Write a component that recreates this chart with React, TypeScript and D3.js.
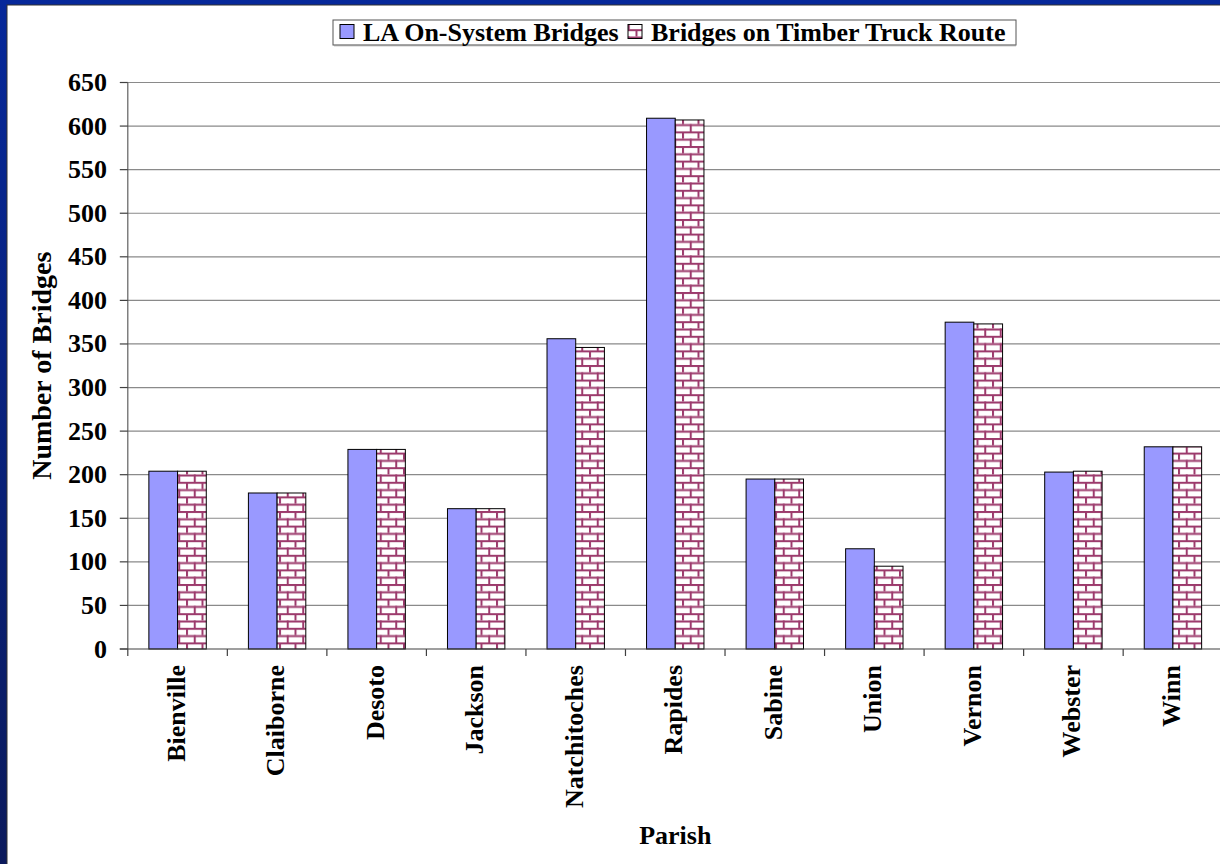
import React from "react";
import * as d3 from "d3";

// Parishes along the x axis
const parishes = [
  "Bienville",
  "Claiborne",
  "Desoto",
  "Jackson",
  "Natchitoches",
  "Rapides",
  "Sabine",
  "Union",
  "Vernon",
  "Webster",
  "Winn",
];

// Series names
const seriesNames = ["LA On-System Bridges", "Bridges on Timber Truck Route"];

// Number of bridges per parish
const onSystemBridges = [204, 179, 229, 161, 356, 609, 195, 115, 375, 203, 232];
const timberRouteBridges = [204, 179, 229, 161, 346, 607, 195, 95, 373, 204, 232];

// Y axis ticks
const yTicks = [0, 50, 100, 150, 200, 250, 300, 350, 400, 450, 500, 550, 600, 650];

const W = 1220;
const H = 864;
const FONT = "'Liberation Serif', 'Times New Roman', serif";
const FS = 26;

export default function App() {
  const plotLeft = 127.8;
  const plotRight = 1222.7;
  const plotTop = 82.5;
  const plotBottom = 649;

  const x = d3.scaleBand<string>().domain(parishes).range([plotLeft, plotRight]).paddingInner(0).paddingOuter(0);
  const y = d3.scaleLinear().domain([0, 650]).range([plotBottom, plotTop]);
  const barW = 28.7;
  const x1 = d3
    .scaleBand<string>()
    .domain(seriesNames)
    .range([-barW, barW]);

  const series = [onSystemBridges, timberRouteBridges];
  const fills = ["#9999FF", "url(#brick)"];

  const bw = 15.5;
  const bh = 14.6;

  return (
    <div style={{ position: "fixed", left: 0, top: 0 }}>
      <svg width={W} height={H} style={{ display: "block" }}>
        <defs>
          <linearGradient id="frame" x1="0" y1="0" x2="0" y2="1">
            <stop offset="0" stopColor="#06289a" />
            <stop offset="1" stopColor="#0b1a5c" />
          </linearGradient>
          <pattern id="brick" patternUnits="userSpaceOnUse" width={bw} height={bh}>
            <rect width={bw} height={bh} fill="#ffffff" />
            <rect x={0} y={0} width={bw} height={2} fill="#9c3a6c" />
            <rect x={0} y={bh / 2} width={bw} height={2} fill="#9c3a6c" />
            <rect x={0} y={0} width={2} height={bh / 2} fill="#9c3a6c" />
            <rect x={bw / 2} y={bh / 2} width={2} height={bh / 2} fill="#9c3a6c" />
          </pattern>
        </defs>

        {/* slide frame */}
        <rect x={0} y={0} width={W} height={H} fill="url(#frame)" />
        <rect x={7} y={5} width={W} height={H} fill="#ffffff" stroke="#333" strokeWidth={1} />

        {/* legend */}
        <g>
          <rect x={333} y={20} width={683} height={25} fill="#fff" stroke="#555" strokeWidth={1} />
          <line x1={334} y1={45.5} x2={1016} y2={45.5} stroke="#999" strokeWidth={1.5} />
          <rect x={340} y={24.5} width={14} height={14} fill="#9999FF" stroke="#000" strokeWidth={1} />
          <text x={363} y={40.5} fontFamily={FONT} fontWeight="bold" fontSize={FS} fill="#000">
            {seriesNames[0]}
          </text>
          <rect x={628} y={24.5} width={14} height={14} fill="url(#brick)" stroke="#000" strokeWidth={1} />
          <text x={651} y={40.5} fontFamily={FONT} fontWeight="bold" fontSize={FS} fill="#000">
            {seriesNames[1]}
          </text>
        </g>

        {/* plot area */}
        <rect x={plotLeft} y={plotTop} width={plotRight - plotLeft} height={plotBottom - plotTop} fill="#fff" />

        {/* gridlines */}
        {yTicks
          .filter((t) => t > 0)
          .map((t) => (
            <line key={t} x1={plotLeft} x2={plotRight} y1={y(t)} y2={y(t)} stroke="#8a8a8a" strokeWidth={1.2} />
          ))}

        {/* bars */}
        {parishes.map((p, i) => {
          const cx = (x(p) as number) + x.bandwidth() / 2;
          return (
            <g key={p}>
              {series.map((vals, s) => (
                <rect
                  key={s}
                  x={cx + (x1(seriesNames[s]) as number)}
                  y={y(vals[i])}
                  width={x1.bandwidth()}
                  height={plotBottom - y(vals[i])}
                  fill={fills[s]}
                  stroke="#000"
                  strokeWidth={1}
                />
              ))}
            </g>
          );
        })}

        {/* y axis */}
        <line x1={plotLeft} x2={plotLeft} y1={plotTop} y2={plotBottom} stroke="#606060" strokeWidth={1.2} />
        {yTicks.map((t) => (
          <g key={t}>
            <line x1={plotLeft - 8} x2={plotLeft} y1={y(t)} y2={y(t)} stroke="#404040" strokeWidth={1.2} />
            <text
              x={107}
              y={y(t) + 8.5}
              textAnchor="end"
              fontFamily={FONT}
              fontWeight="bold"
              fontSize={FS}
              fill="#000"
            >
              {t}
            </text>
          </g>
        ))}

        {/* x axis */}
        <line x1={plotLeft - 8} x2={plotRight} y1={plotBottom} y2={plotBottom} stroke="#404040" strokeWidth={1.2} />
        {parishes.map((p) => (
          <line
            key={p}
            x1={x(p) as number}
            x2={x(p) as number}
            y1={plotBottom}
            y2={plotBottom + 7}
            stroke="#404040"
            strokeWidth={1.2}
          />
        ))}
        {parishes.map((p) => {
          const cx = (x(p) as number) + x.bandwidth() / 2;
          return (
            <text
              key={p}
              transform={`translate(${cx + 7},${665}) rotate(-90)`}
              textAnchor="end"
              fontFamily={FONT}
              fontWeight="bold"
              fontSize={FS}
              fill="#000"
            >
              {p}
            </text>
          );
        })}

        {/* axis titles */}
        <text
          transform={`translate(51,${(plotTop + plotBottom) / 2}) rotate(-90)`}
          textAnchor="middle"
          fontFamily={FONT}
          fontWeight="bold"
          fontSize={28}
          fill="#000"
        >
          Number of Bridges
        </text>
        <text
          x={(plotLeft + plotRight) / 2}
          y={844}
          textAnchor="middle"
          fontFamily={FONT}
          fontWeight="bold"
          fontSize={FS}
          fill="#000"
        >
          Parish
        </text>
      </svg>
    </div>
  );
}
